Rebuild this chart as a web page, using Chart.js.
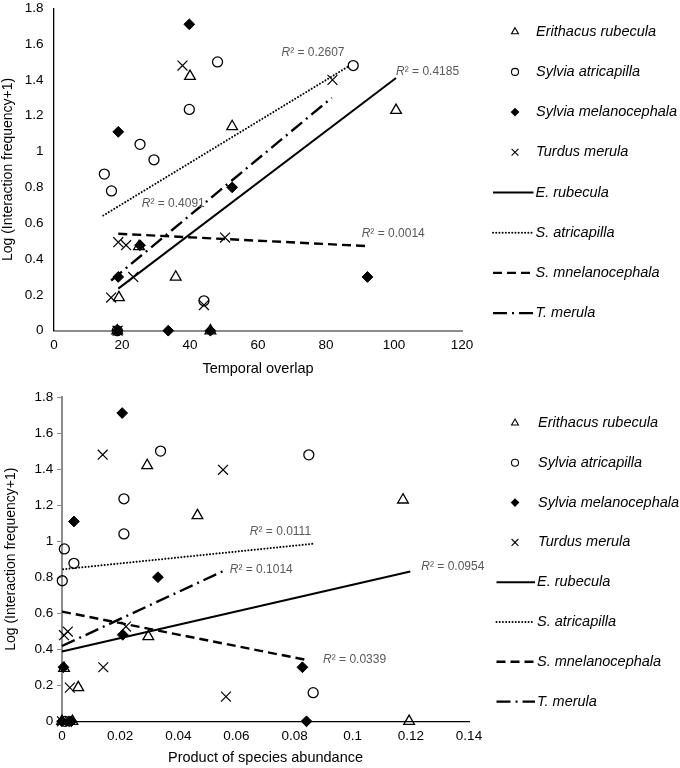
<!DOCTYPE html>
<html>
<head>
<meta charset="utf-8">
<script src="https://cdn.jsdelivr.net/npm/chart.js@4.4.1/dist/chart.umd.min.js"></script>
<style>
  html, body { margin: 0; padding: 0; background: #fff; }
  #wrap { position: relative; width: 680px; height: 768px; }
  canvas { position: absolute; left: 0; }
  #overlapChart { top: 0; }
  #abundanceChart { top: 385px; }
</style>
</head>
<body>
<div id="wrap">
  <canvas id="overlapChart" width="680" height="385"></canvas>
  <canvas id="abundanceChart" width="680" height="383"></canvas>
</div>
<script>
// ==================== DATA ====================
const speciesNames = ['Erithacus rubecula', 'Sylvia atricapilla', 'Sylvia melanocephala', 'Turdus merula'];
const trendNames = ['E. rubecula', 'S. atricapilla', 'S. mnelanocephala', 'T. merula'];

const logTicks = [0, 0.2, 0.4, 0.6, 0.8, 1, 1.2, 1.4, 1.6, 1.8];
const overlapTicks = [0, 20, 40, 60, 80, 100, 120];
const abundanceTicks = [0, 0.02, 0.04, 0.06, 0.08, 0.1, 0.12, 0.14];

// Temporal overlap vs log(interaction frequency + 1)
const erithacusOverlap = [[40, 1.42], [52.4, 1.14], [100.6, 1.23], [35.8, 0.30], [19.1, 0.185], [25, 0.47], [18.6, 0], [46, 0]];
const atricapillaOverlap = [[48.1, 1.50], [39.8, 1.235], [25.3, 1.04], [29.4, 0.954], [14.8, 0.874], [16.9, 0.78], [88, 1.48], [44.1, 0.167], [18.6, 0]];
const melanocephalaOverlap = [[39.8, 1.71], [18.9, 1.11], [52.4, 0.80], [25.3, 0.477], [18.9, 0.30], [92.2, 0.30], [33.6, 0], [46, 0], [18.7, 0]];
const merulaOverlap = [[37.8, 1.48], [81.9, 1.40], [18.9, 0.494], [21.2, 0.477], [23.3, 0.30], [16.8, 0.185], [44.1, 0.143], [50.3, 0.52], [18.7, 0]];

const rubeculaTrendOverlap = [[18.9, 0.235], [100.6, 1.41]];
const atricapillaTrendOverlap = [[14.5, 0.643], [87, 1.48]];
const melanocephalaTrendOverlap = [[18.9, 0.541], [92.5, 0.472]];
const merulaTrendOverlap = [[16.8, 0.28], [81.7, 1.30]];
const r2Overlap = ['0.4185', '0.2607', '0.0014', '0.4091'];

// Product of species abundance vs log(interaction frequency + 1)
const erithacusAbund = [[0.0293, 1.42], [0.0466, 1.142], [0.1173, 1.229], [0.0297, 0.47], [0.0056, 0.187], [0.0007, 0.294], [0, 0], [0.0036, 0], [0.1194, 0]];
const atricapillaAbund = [[0.0339, 1.50], [0.0213, 1.235], [0.0213, 1.04], [0.0008, 0.957], [0.0041, 0.877], [0.0001, 0.78], [0.0849, 1.479], [0.0864, 0.159], [0.001, 0]];
const melanocephalaAbund = [[0.0207, 1.711], [0.0041, 1.109], [0.033, 0.80], [0.0209, 0.48], [0.0005, 0.30], [0.0827, 0.30], [0.0841, 0], [0.0025, 0], [0.0032, 0], [0, 0]];
const merulaAbund = [[0.014, 1.48], [0.0554, 1.396], [0.0007, 0.478], [0.002, 0.498], [0.022, 0.526], [0.0142, 0.30], [0.0027, 0.187], [0.0564, 0.137], [0, 0]];

const rubeculaTrendAbund = [[0, 0.387], [0.1198, 0.831]];
const atricapillaTrendAbund = [[0.0004, 0.844], [0.0861, 0.985]];
const melanocephalaTrendAbund = [[0, 0.609], [0.0843, 0.34]];
const merulaTrendAbund = [[0, 0.418], [0.0563, 0.84]];
const r2Abund = ['0.0954', '0.0111', '0.0339', '0.1014'];

// ==================== STYLES ====================
const FONT = "'Liberation Sans', Arial, sans-serif";

const markerStyles = [
  { pointStyle: 'triangle', pointRadius: 6.2, pointBackgroundColor: 'rgba(0,0,0,0)', pointBorderColor: '#000', pointBorderWidth: 1.3 },
  { pointStyle: 'circle', pointRadius: 5, pointBackgroundColor: 'rgba(0,0,0,0)', pointBorderColor: '#000', pointBorderWidth: 1.3 },
  { pointStyle: 'rectRot', pointRadius: 5.4, pointBackgroundColor: '#000', pointBorderColor: '#000', pointBorderWidth: 1 },
  { pointStyle: 'crossRot', pointRadius: 7, pointBackgroundColor: 'rgba(0,0,0,0)', pointBorderColor: '#000', pointBorderWidth: 1.2 }
];
const legendMarkerRadius = [4, 3.5, 3.6, 4.8];

const lineStyles = [
  { borderWidth: 2, borderDash: [], borderCapStyle: 'butt' },
  { borderWidth: 2, borderDash: [0.01, 3.2], borderCapStyle: 'round' },
  { borderWidth: 2.4, borderDash: [9, 5], borderCapStyle: 'butt' },
  { borderWidth: 2.4, borderDash: [14, 5, 2, 5], borderCapStyle: 'butt' }
];

const toXY = pts => pts.map(p => ({ x: p[0], y: p[1] }));

function buildDatasets(points, trends) {
  const sets = points.map((pts, i) => Object.assign({
    label: speciesNames[i],
    data: toXY(pts),
    showLine: false,
    pointHoverRadius: markerStyles[i].pointRadius,
    clip: false
  }, markerStyles[i]));
  trends.forEach((pts, i) => sets.push(Object.assign({
    label: trendNames[i],
    data: toXY(pts),
    showLine: true,
    pointRadius: 0,
    pointHoverRadius: 0,
    borderColor: '#000',
    clip: false
  }, lineStyles[i])));
  return sets;
}

// ==================== PLUGIN : R² LABELS + SIDE LEGEND ====================
const extras = {
  id: 'extras',
  afterDatasetsDraw(chart, args, opts) {
    const ctx = chart.ctx;
    const xs = chart.scales.x, ys = chart.scales.y;
    ctx.save();
    ctx.textBaseline = 'middle';
    ctx.textAlign = 'left';
    ctx.fillStyle = '#595959';
    opts.r2Values.forEach((val, i) => {
      const a = opts.r2Anchors[i];
      const px = xs.getPixelForValue(a[0]);
      const py = ys.getPixelForValue(a[1]);
      ctx.font = 'italic 12px ' + FONT;
      ctx.fillText('R', px, py);
      const w = ctx.measureText('R').width;
      ctx.font = '12px ' + FONT;
      ctx.fillText('\u00B2 = ' + val, px + w, py);
    });
    ctx.restore();
  },
  afterDraw(chart, args, opts) {
    const ctx = chart.ctx;
    const lg = opts.legend;
    ctx.save();
    chart.data.datasets.forEach((ds, i) => {
      const y = lg.top + i * lg.step;
      let textX = lg.textX;
      if (ds.showLine) {
        ctx.strokeStyle = '#000';
        ctx.lineWidth = ds.borderWidth;
        ctx.lineCap = ds.borderCapStyle;
        ctx.setLineDash(ds.borderDash);
        ctx.beginPath();
        ctx.moveTo(lg.lineStart, y);
        ctx.lineTo(lg.lineEnd, y);
        ctx.stroke();
        ctx.setLineDash([]);
        ctx.lineCap = 'butt';
        textX = lg.lineEnd + 2;
      } else {
        ctx.fillStyle = ds.pointBackgroundColor;
        ctx.strokeStyle = ds.pointBorderColor;
        ctx.lineWidth = 1.1;
        Chart.helpers.drawPoint(ctx, { pointStyle: ds.pointStyle, radius: legendMarkerRadius[i], borderWidth: 1.1, rotation: 0 }, lg.markerX, y);
      }
      ctx.fillStyle = '#000';
      ctx.font = 'italic 14.5px ' + FONT;
      ctx.textBaseline = 'middle';
      ctx.textAlign = 'left';
      ctx.fillText(ds.label, textX, y);
    });
    ctx.restore();
  }
};

// ==================== CHART BUILDER ====================
function makeChart(canvasId, cfg) {
  const tickFont = { family: FONT, size: 13.5 };
  const titleFont = { family: FONT, size: 14.5 };
  return new Chart(document.getElementById(canvasId), {
    type: 'scatter',
    data: { datasets: buildDatasets(cfg.points, cfg.trends) },
    options: {
      responsive: false,
      animation: false,
      events: [],
      layout: { padding: cfg.padding },
      plugins: {
        legend: { display: false },
        tooltip: { enabled: false },
        extras: { r2Values: cfg.r2Values, r2Anchors: cfg.r2Anchors, legend: cfg.legend }
      },
      scales: {
        x: {
          type: 'linear',
          min: cfg.xTicks[0],
          max: cfg.xTicks[cfg.xTicks.length - 1],
          afterBuildTicks: s => { s.ticks = cfg.xTicks.map(v => ({ value: v })); },
          ticks: { color: '#000', font: tickFont, padding: cfg.xTickPad, maxRotation: 0, callback: v => String(v) },
          grid: { display: false, drawTicks: false },
          border: cfg.xBorder,
          title: { display: true, text: cfg.xTitle, color: '#000', font: titleFont, padding: { top: 0, bottom: cfg.xTitlePad } },
          afterFit: s => {
            s.height = cfg.xHeight;
            s.paddingLeft = 0; s.paddingRight = 0;
          }
        },
        y: {
          type: 'linear',
          min: 0,
          max: 1.8,
          afterBuildTicks: s => { s.ticks = logTicks.map(v => ({ value: v })); },
          ticks: { color: '#000', font: tickFont, padding: cfg.yTickPad, callback: v => String(v) },
          grid: cfg.yGrid,
          border: cfg.yBorder,
          title: { display: true, text: 'Log (Interaction frequency+1)', color: '#000', font: { family: FONT, size: 14 }, padding: { top: cfg.yTitlePad, bottom: 0 } },
          afterFit: s => {
            s.width = cfg.yWidth;
            s.paddingTop = 0; s.paddingBottom = 0;
          }
        }
      }
    },
    plugins: [extras]
  });
}

// Top : temporal overlap
makeChart('overlapChart', {
  points: [erithacusOverlap, atricapillaOverlap, melanocephalaOverlap, merulaOverlap],
  trends: [rubeculaTrendOverlap, atricapillaTrendOverlap, melanocephalaTrendOverlap, merulaTrendOverlap],
  r2Values: r2Overlap,
  r2Anchors: [[100.6, 1.448], [66.9, 1.55], [90.5, 0.544], [25.8, 0.711]],
  xTicks: overlapTicks,
  xTitle: 'Temporal overlap',
  padding: { left: 0, top: 6.7, right: 218, bottom: 0 },
  xHeight: 54.3,
  yWidth: 54,
  xTickPad: 6,
  yTickPad: 10.5,
  xTitlePad: 7,
  yTitlePad: 0,
  xBorder: { display: true, color: '#8c8c8c', width: 2 },
  yBorder: { display: true, color: '#000', width: 1.3 },
  yGrid: { display: false, drawTicks: false },
  legend: { top: 31.7, step: 40.2, markerX: 515, textX: 536, lineStart: 493, lineEnd: 533.5 }
});

// Bottom : product of species abundance
makeChart('abundanceChart', {
  points: [erithacusAbund, atricapillaAbund, melanocephalaAbund, merulaAbund],
  trends: [rubeculaTrendAbund, atricapillaTrendAbund, melanocephalaTrendAbund, merulaTrendAbund],
  r2Values: r2Abund,
  r2Anchors: [[0.1236, 0.857], [0.0646, 1.053], [0.0898, 0.341], [0.0577, 0.841]],
  xTicks: abundanceTicks,
  xTitle: 'Product of species abundance',
  padding: { left: 0, top: 12, right: 211, bottom: 0 },
  xHeight: 46.7,
  yWidth: 62,
  xTickPad: 7.3,
  yTickPad: 3.7,
  xTitlePad: 1.3,
  yTitlePad: 3,
  xBorder: { display: true, color: '#000', width: 1.3 },
  yBorder: { display: true, color: '#8c8c8c', width: 2 },
  yGrid: { display: true, drawOnChartArea: false, drawTicks: true, tickLength: 5, color: '#8c8c8c', lineWidth: 1 },
  legend: { top: 38, step: 39.8, markerX: 515, textX: 538, lineStart: 496.5, lineEnd: 535 }
});
</script>
</body>
</html>
